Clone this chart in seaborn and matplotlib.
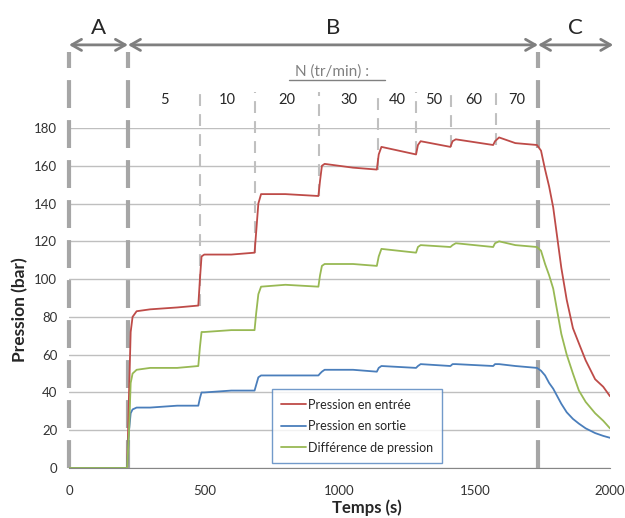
import pandas as pd
import matplotlib.pyplot as plt
import seaborn as sns

# time (s) and the three pressure series (bar)
temps = [0, 215, 222, 228, 235, 250, 300, 400, 478, 484, 490, 500, 600, 686, 692, 700,
         710, 800, 922, 928, 935, 945, 1050, 1138, 1145, 1155, 1283, 1290, 1300, 1410,
         1418, 1430, 1568, 1575, 1590, 1650, 1730, 1745, 1760, 1775, 1790, 1805, 1820,
         1840, 1863, 1885, 1910, 1945, 1975, 2000]
p_entree = [0, 0, 40, 72, 80, 83, 84, 85, 86, 100, 112, 113, 113, 114, 125, 140,
            145, 145, 144, 152, 160, 161, 159, 158, 166, 170, 166, 171, 173, 170,
            173, 174, 171, 173, 175, 172, 171, 168, 158, 149, 138, 122, 106,
            89, 74, 66, 57, 47, 43, 38]
p_sortie = [0, 0, 20, 29, 31, 32, 32, 33, 33, 37, 40, 40, 41, 41, 44, 48,
            49, 49, 49, 50, 51, 52, 52, 51, 53, 54, 53, 54, 55, 54,
            55, 55, 54, 55, 55, 54, 53, 51.5, 49, 45, 42, 38, 34,
            29.5, 26, 23.5, 21, 18.5, 17, 16]
p_diff = [0, 0, 20, 45, 50, 52, 53, 53, 54, 64, 72, 72, 73, 73, 82, 92,
          96, 97, 96, 102, 107, 108, 108, 107, 112, 116, 114, 117, 118, 117,
          118, 119, 117, 119, 120, 118, 117, 115, 108, 102, 95, 83, 71,
          60, 50, 41, 35, 29, 25, 21]

series_names = ["Pression en entrée", "Pression en sortie", "Différence de pression"]
series_colors = ["#be4b48", "#4a7ebb", "#98b954"]

# phases A/B/C and speed steps N (tr/min)
phase_labels = ["A", "B", "C"]
phase_bounds = [0, 218, 1734, 2012]
vitesses = ["5", "10", "20", "30", "40", "50", "60", "70"]
step_times = [484, 688, 924, 1142, 1283, 1412, 1579]
step_bottoms = [86, 114, 144, 158, 167, 170, 171]

sns.set_style("white")
plt.rcParams["font.family"] = ["Lato", "DejaVu Sans"]

df = pd.concat([
    pd.DataFrame({"Temps": temps, "Pression": vals, "Serie": name})
    for name, vals in zip(series_names, [p_entree, p_sortie, p_diff])
])

fig = plt.figure(figsize=(6.25, 5.18), dpi=100)
ax = fig.add_axes([0.1104, 0.0965, 0.8656, 0.6564])

sns.lineplot(data=df, x="Temps", y="Pression", hue="Serie", hue_order=series_names,
             palette=series_colors, sort=False, estimator=None, linewidth=1.3,
             ax=ax, zorder=3)

ax.set_xlim(0, 2000)
ax.set_ylim(0, 180)
ax.set_xticks(range(0, 2001, 500))
ax.set_yticks(range(0, 181, 20))
ax.yaxis.grid(True, color="#bfbfbf", linewidth=1)
ax.xaxis.grid(False)
for side in ["top", "right", "left"]:
    ax.spines[side].set_visible(False)
ax.spines["bottom"].set_color("#868686")
ax.tick_params(axis="both", labelsize=9.5, labelcolor="#333333", direction="out")
ax.tick_params(axis="x", length=4, pad=8, color="#868686")
ax.tick_params(axis="y", length=7, pad=1.5, color="#bfbfbf")
ax.set_xlabel("Temps (s)", fontsize=12, fontweight="bold")
ax.set_ylabel("Pression (bar)", fontsize=12.5, fontweight="bold")
ax.xaxis.set_label_coords(0.551, -0.091)
ax.yaxis.set_label_coords(-0.076, 0.465)

# thick phase separators
for t in phase_bounds[:3]:
    ax.plot([t, t], [0, 220], color="#a6a6a6", lw=3, linestyle=(0, (6.7, 2.9)),
            clip_on=False, zorder=2)

# phase arrows and letters
for i, lab in enumerate(phase_labels):
    x0, x1 = phase_bounds[i], phase_bounds[i + 1]
    ax.annotate("", xy=(x1, 224), xytext=(x0, 224), annotation_clip=False,
                arrowprops=dict(arrowstyle="<->,head_length=0.7,head_width=0.4",
                                color="#7f7f7f", lw=2, shrinkA=0, shrinkB=0))
    ax.text((x0 + x1) / 2, 233, lab, ha="center", va="center", fontsize=16,
            clip_on=False)

# speed steps
for t, b in zip(step_times, step_bottoms):
    ax.plot([t, t], [b, 199], color="#c0c0c0", lw=1.5, linestyle=(0, (5.7, 3.9)),
            clip_on=False, zorder=2)
edges = [phase_bounds[1]] + step_times + [phase_bounds[2]]
for i, v in enumerate(vitesses):
    ax.text((edges[i] + edges[i + 1]) / 2, 195, v, ha="center", va="center",
            fontsize=10.5, clip_on=False)

ax.text(972, 210, "N (tr/min) :", ha="center", va="center", fontsize=11,
        color="#808080", clip_on=False)
ax.plot([813, 1168], [205.5, 205.5], color="#808080", lw=1, clip_on=False)

leg = ax.legend(loc="lower left", bbox_to_anchor=(0.375, 0.015), borderaxespad=0,
                fontsize=9, handlelength=2.0, handletextpad=0.1, frameon=True,
                fancybox=False, borderpad=0.75, labelspacing=0.75)
leg.get_frame().set_edgecolor("#4f81bd")
leg.get_frame().set_linewidth(1)
for line in leg.get_lines():
    line.set_linewidth(1.3)

fig.savefig("out.png", dpi=100)
